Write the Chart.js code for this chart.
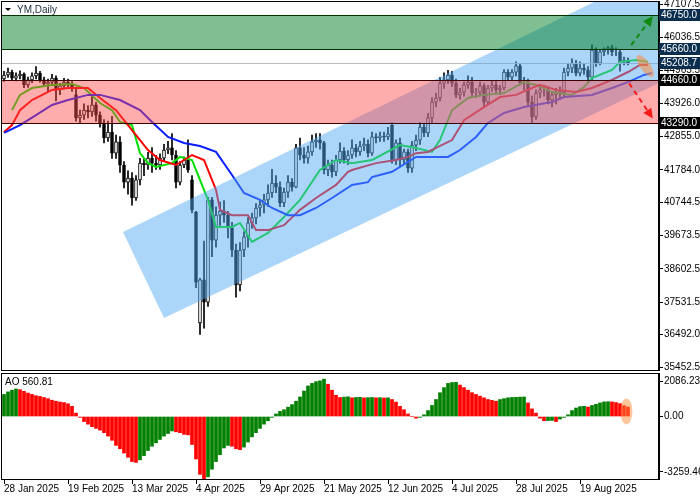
<!DOCTYPE html>
<html><head><meta charset="utf-8">
<script src="https://cdn.jsdelivr.net/npm/chart.js@4/dist/chart.umd.min.js"></script>
<style>
html,body{margin:0;padding:0;background:#fff;}
#wrap{position:relative;width:700px;height:500px;}
#c1{position:absolute;left:0;top:0;}
#c2{position:absolute;left:0;top:372px;}
</style></head><body>
<div id="wrap"><canvas id="c1" width="700" height="372"></canvas><canvas id="c2" width="700" height="128"></canvas></div>
<script>
const dateIdx = [0,16,32,48,64,80,96,112,128,144];
const dateLabels = ['28 Jan 2025','19 Feb 2025','13 Mar 2025','4 Apr 2025','29 Apr 2025','21 May 2025','12 Jun 2025','4 Jul 2025','28 Jul 2025','19 Aug 2025'];
const priceTicks = [47107.5,46036.5,44965.5,43926.0,42855.0,41784.0,40744.5,39673.5,38602.5,37531.5,36492.0,35452.5];
const aoTicks = [2086.23,0,-3259.46];

const opens = [44700,44830,44920,44730,44800,44860,44510,44670,44800,44890,
44670,44540,44600,44730,44350,44480,44600,44510,44190,43450,
43540,43700,43640,43870,43540,43290,42810,43000,42320,42680,
41940,41390,41520,40880,41460,42000,41940,42160,42000,41940,
42160,42420,42490,42260,41390,41940,42100,41460,40430,36870,
38250,37540,40820,39530,40330,40460,40330,39920,39210,38090,
39210,39630,40080,40240,40560,40660,40820,41040,41360,41230,
40720,41070,41390,41230,42490,42260,42160,42360,42680,42740,
42650,41780,41940,41720,42100,42390,42100,42260,42490,42360,
42550,42610,42320,42840,42810,42870,42840,43220,42100,42650,
42100,42360,41840,42580,42740,43160,42970,43450,43960,44090,
44570,44670,44830,44570,44190,44280,44510,44600,44250,44280,
44480,43960,44410,44510,44350,44410,44920,44760,44920,45120,
44600,44570,43960,43480,44250,44350,44350,44030,44190,44280,
44250,44920,45050,45210,44890,45050,44990,44760,45630,45210,
45570,45630,45700,45570,45570,45250,45310];
const closes = [44830,44920,44730,44800,44860,44510,44670,44800,44890,44670,
44540,44600,44730,44350,44480,44600,44510,44410,43450,43540,
43700,43640,43870,43540,43290,42810,43000,42320,42680,41940,
41390,41520,40880,41460,42000,41940,42160,42000,41940,42160,
42420,42490,42260,41390,41940,42100,41780,40500,38180,38250,
37540,40820,39530,40330,40460,40330,39920,39210,38090,39210,
39630,40080,40240,40560,40660,40820,41040,41360,41230,40720,
41070,41390,41230,42490,42260,42160,42360,42680,42740,42650,
41780,41940,41720,42100,42390,42100,42260,42490,42360,42550,
42610,42320,42840,42810,42870,42840,42940,42100,42650,42100,
42360,41840,42580,42740,43160,42970,43450,43960,44090,44570,
44670,44830,44570,44190,44280,44510,44600,44250,44280,44480,
43960,44410,44510,44350,44410,44920,44760,44920,45120,44600,
44570,43960,43480,44250,44350,44350,44030,44190,44280,44250,
44920,45050,45210,44890,45050,44990,44760,45630,45210,45570,
45630,45700,45570,45570,45250,45310,45208.7];
const highs = [44950,45050,44990,44900,44960,44900,44760,44900,45100,44950,
44760,44700,44850,44800,44560,44720,44700,44620,44420,43700,
43900,43850,44200,43950,43650,43400,43350,43500,42900,42850,
42050,41750,41700,41600,42150,42150,42350,42500,42250,42300,
42600,42700,42950,42400,42050,42200,42750,41600,40450,38300,
39500,40900,40900,40600,40750,40800,40450,40100,39400,39450,
39800,40250,40400,40700,40800,41000,41300,41800,41600,41400,
41200,41600,41500,42600,42800,42500,42550,42900,42950,42950,
42700,42100,42100,42250,42650,42500,42400,42750,42600,42700,
42800,42750,43000,42950,43000,43000,43150,43300,42750,42800,
42450,42450,42700,42900,43300,43250,43600,44100,44250,44750,
44900,44980,44950,44700,44400,44600,44800,44750,44400,44600,
44550,44500,44650,44650,44500,45000,45000,45000,45250,45200,
44750,44700,44150,44350,44450,44500,44450,44300,44400,44450,
45050,45200,45350,45300,45250,45200,45100,45800,45700,45650,
45700,45750,45780,45700,45650,45400,45380];
const lows = [44620,44750,44650,44640,44700,44420,44430,44580,44700,44600,
44460,44300,44520,44000,44200,44380,44400,44300,43350,43300,
43400,43450,43500,43350,43150,42650,42700,42150,42150,41700,
41200,41000,40650,40800,41300,41600,41800,41700,41800,41800,
42050,42300,42100,41200,41300,41850,41700,40400,38000,36500,
36700,37400,39000,39300,40000,40100,39600,39000,37700,37900,
39000,39300,39900,40050,40300,40400,40600,40900,41050,40600,
40600,40900,41100,41200,42100,42000,42000,42250,42500,42450,
41650,41600,41550,41600,42000,42000,41950,42150,42200,42250,
42400,42200,42250,42650,42700,42700,42750,42000,41950,41900,
41950,41700,41700,42400,42600,42850,42850,43300,43800,44000,
44400,44550,44450,44100,44050,44150,44400,44100,44100,44150,
43800,43900,44300,44250,44200,44350,44650,44650,44800,44500,
44350,43850,43300,43400,44100,44150,43900,43800,43900,44050,
44150,44800,44900,44800,44800,44850,44600,44650,45100,45150,
45450,45500,45450,45450,44950,45150,45150];

const lipsX = [2,4,7,12,17,20,24,27,29,32,34,36,38,42,44,47,49,51,53,57,59,62,66,70,74,79,83,87,92,99,103,107,109,112,116,120,125,130,133,137,142,145,147,152,154,158,161];
const lipsV = [43700,44190,44410,44510,44540,44410,43930,43700,43320,43220,42320,42000,41875,42000,42200,42100,41460,40820,39950,39950,40080,39470,39760,40270,40820,41780,42100,42000,42100,42580,42485,42360,42740,43700,44090,44190,44250,44600,44510,44280,44190,44440,44730,44990,45250,45310,45250];
const teethX = [0,2,4,7,12,16,21,24,28,32,36,39,43,47,50,53,54,57,61,63,66,70,74,78,83,86,87,93,98,101,103,106,108,112,115,120,124,128,132,134,138,143,147,152,156,159,161];
const teethV = [43000,43220,43700,44026,44350,44410,44410,44090,43700,43060,42420,42100,41940,42260,42100,41140,40500,40330,40330,39850,39850,40010,40500,40880,41300,41720,41780,42000,42100,42200,42320,42360,42490,42740,43380,43800,44120,44190,44410,44510,44350,44280,44410,44670,44925,45150,45150];
const jawX = [0,4,8,12,16,21,24,29,34,37,41,45,49,53,57,60,64,67,71,74,78,82,87,91,92,97,103,111,114,118,121,125,130,137,140,147,152,156,160,162];
const jawV = [42970,43220,43540,43865,44026,44190,44190,44026,43700,43320,42840,42645,42550,42360,41620,41040,40820,40560,40330,40330,40560,40880,41300,41390,41550,41720,42200,42200,42420,42840,43290,43610,43800,43960,44120,44190,44410,44600,44830,44890];

const aoValues = [1300,1450,1550,1620,1580,1480,1380,1300,1220,1180,
1120,1050,960,900,850,820,750,600,200,-50,
-300,-450,-600,-700,-800,-950,-1150,-1400,-1700,-1900,
-2150,-2400,-2650,-2700,-2550,-2300,-2000,-1750,-1550,-1350,
-1150,-1000,-850,-900,-950,-1050,-1080,-1650,-2500,-3400,
-3800,-3550,-3100,-2650,-2250,-1850,-1700,-1750,-1900,-1950,
-1800,-1500,-1200,-950,-700,-450,-250,-50,150,300,
400,550,700,900,1150,1500,1800,1950,2050,2100,
2200,1900,1550,1250,1120,1140,1160,1100,1120,1130,
1100,1110,1120,1100,1110,1090,1100,1000,850,600,
400,150,0,-100,-50,100,350,650,1000,1400,
1700,1950,2000,2010,1850,1700,1550,1400,1300,1200,
1100,1000,950,900,1000,1050,1100,1120,1130,1140,
1150,800,450,200,-100,-250,-240,-230,-300,-150,
-50,100,350,500,580,600,560,650,720,800,
860,870,860,820,760,640,560.81];

const levels = [46750,45660,45208.7,44660,43290];
const levelBg = ['#0b2e4f','#0b2e4f','#0b2e4f','#000000','#000000'];
const greenZone = [45660,46750];
const redZone = [43290,44660];
const channel = [[29.75,39790],[40,37030],[163.75,44570],[163.75,48190]];

const FONT = {family:'Liberation Sans, Arial, sans-serif', size:10};
const XMIN=-0.75, XMAX=163.75;

const bodyData = opens.map((o,i)=>({x:i,y:[o,closes[i]]}));
const wickData = highs.map((h,i)=>({x:i,y:[lows[i],h]}));
const bodyColors = opens.map((o,i)=> closes[i]>=o ? '#ffffff' : '#000000');
const pts = (xs,vs)=>xs.map((x,i)=>({x:x,y:vs[i]}));
const noPadV = s=>{s.paddingTop=0;s.paddingBottom=0;};

const overlayPlugin = {
  id:'ov',
  afterDatasetsDraw(chart){
    const {ctx, chartArea:a, scales:{x,y}} = chart;
    ctx.save();
    ctx.beginPath(); ctx.rect(a.left,a.top,a.right-a.left,a.bottom-a.top); ctx.clip();
    ctx.strokeStyle='#bdbdbd'; ctx.lineWidth=1;
    let py=Math.round(y.getPixelForValue(closes[closes.length-1]))+0.5;
    ctx.beginPath(); ctx.moveTo(a.left,py); ctx.lineTo(a.right,py); ctx.stroke();
    ctx.fillStyle='rgba(80,170,245,0.48)';
    ctx.beginPath();
    channel.forEach((p,i)=>{const px=x.getPixelForValue(p[0]),yy=y.getPixelForValue(p[1]); i?ctx.lineTo(px,yy):ctx.moveTo(px,yy);});
    ctx.closePath(); ctx.fill();
    const zone=(z,fill,line)=>{
      const y1=Math.round(y.getPixelForValue(z[1])), y0=Math.round(y.getPixelForValue(z[0]));
      ctx.fillStyle=fill; ctx.fillRect(a.left,y1,a.right-a.left,y0-y1);
      ctx.strokeStyle=line; ctx.lineWidth=1;
      [y0,y1].forEach(v=>{ctx.beginPath();ctx.moveTo(a.left,v+0.5);ctx.lineTo(a.right,v+0.5);ctx.stroke();});
    };
    zone(greenZone,'rgba(0,128,36,0.5)','#003300');
    zone(redZone,'rgba(255,70,70,0.45)','#3a0000');
    ctx.fillStyle='rgba(255,140,60,0.55)';
    ctx.beginPath(); ctx.ellipse(x.getPixelForValue(160.3),y.getPixelForValue(45120),13,5,0.95,0,Math.PI*2); ctx.fill();
    const arrow=(x0,v0,x1,v1,col)=>{
      const ax=x.getPixelForValue(x0), ay=y.getPixelForValue(v0), bx=x.getPixelForValue(x1), by=y.getPixelForValue(v1);
      const ang=Math.atan2(by-ay,bx-ax);
      const ex=bx-8*Math.cos(ang), ey=by-8*Math.sin(ang);
      ctx.strokeStyle=col; ctx.lineWidth=2; ctx.setLineDash([5,4]);
      ctx.beginPath(); ctx.moveTo(ax,ay); ctx.lineTo(ex,ey); ctx.stroke(); ctx.setLineDash([]);
      ctx.fillStyle=col; ctx.beginPath(); ctx.moveTo(bx,by);
      ctx.lineTo(bx-11*Math.cos(ang-0.45),by-11*Math.sin(ang-0.45));
      ctx.lineTo(bx-11*Math.cos(ang+0.45),by-11*Math.sin(ang+0.45)); ctx.closePath(); ctx.fill();
    };
    arrow(156.8,45790,162.2,46720,'#118a11');
    arrow(156.3,44560,162.2,43430,'#ff1a1a');
    ctx.restore();
    ctx.strokeStyle='#000'; ctx.lineWidth=1;
    ctx.strokeRect(a.left+0.5,a.top+0.5,a.right-a.left-1,a.bottom-a.top);
    ctx.fillStyle='#000'; ctx.beginPath(); ctx.moveTo(5,8); ctx.lineTo(11,8); ctx.lineTo(8,11); ctx.closePath(); ctx.fill();
    ctx.font='10px Liberation Sans, Arial'; ctx.fillStyle='#1a2a3a'; ctx.textBaseline='middle'; ctx.textAlign='left';
    ctx.fillText('YM,Daily',17,10);
  },
  afterDraw(chart){
    const {ctx, scales:{y}} = chart;
    ctx.save(); ctx.font='10px Liberation Sans, Arial'; ctx.textBaseline='middle'; ctx.textAlign='left';
    levels.forEach((v,i)=>{
      const py=Math.round(y.getPixelForValue(v));
      ctx.fillStyle=levelBg[i]; ctx.fillRect(659,py-6,41,12);
      ctx.fillStyle='#fff'; ctx.fillText(v.toFixed(1),661,py);
    });
    ctx.restore();
  }
};

new Chart(document.getElementById('c1'),{
  type:'bar',
  data:{datasets:[
    {type:'line',data:pts(jawX,jawV),borderColor:'#0a1eff',borderWidth:2,pointRadius:0,order:1},
    {type:'line',data:pts(teethX,teethV),borderColor:'#ff0000',borderWidth:2,pointRadius:0,order:1},
    {type:'line',data:pts(lipsX,lipsV),borderColor:'#00e000',borderWidth:2,pointRadius:0,order:1},
    {data:wickData,backgroundColor:'#000',barThickness:1,grouped:false,order:3},
    {data:bodyData,backgroundColor:bodyColors,borderColor:'#000',borderWidth:1,borderSkipped:false,barThickness:3,grouped:false,order:2}
  ]},
  options:{
    responsive:false,animation:false,
    layout:{padding:{left:1,top:1,right:0,bottom:2}},
    plugins:{legend:{display:false},tooltip:{enabled:false}},
    scales:{
      x:{type:'linear',min:XMIN,max:XMAX,offset:false,display:false},
      y:{position:'right',min:35359,max:47204,
        afterFit(s){s.width=41;noPadV(s);},
        afterBuildTicks(s){s.ticks=priceTicks.map(v=>({value:v}));},
        border:{display:true,color:'#000'},
        grid:{drawOnChartArea:false,drawTicks:true,tickLength:4,color:'#000'},
        ticks:{color:'#000',font:FONT,padding:1,callback:v=>v.toFixed(1)}}
    }
  },
  plugins:[overlayPlugin]
});

const aoColors = aoValues.map((v,i)=> (i===0 || v>aoValues[i-1]) ? '#008000' : '#ff0000');
const aoPlugin = {
  id:'ao',
  afterDatasetsDraw(chart){
    const {ctx, chartArea:a, scales:{x,y}} = chart;
    ctx.save();
    ctx.fillStyle='rgba(255,140,60,0.5)';
    ctx.beginPath(); ctx.ellipse(x.getPixelForValue(155.6),y.getPixelForValue(300),6,13,0,0,Math.PI*2); ctx.fill();
    ctx.strokeStyle='#000'; ctx.lineWidth=1;
    ctx.strokeRect(a.left+0.5,a.top+0.5,a.right-a.left-1,a.bottom-a.top);
    ctx.font='10px Liberation Sans, Arial'; ctx.fillStyle='#000'; ctx.textBaseline='middle'; ctx.textAlign='left';
    ctx.fillText('AO '+aoValues[aoValues.length-1].toFixed(2),5,a.top+9);
    ctx.restore();
  }
};
new Chart(document.getElementById('c2'),{
  type:'bar',
  data:{datasets:[{data:aoValues.map((v,i)=>({x:i,y:v})),backgroundColor:aoColors,barThickness:3,grouped:false}]},
  options:{
    responsive:false,animation:false,
    layout:{padding:{left:1,top:1,right:0,bottom:0}},
    plugins:{legend:{display:false},tooltip:{enabled:false}},
    scales:{
      x:{type:'linear',min:XMIN,max:XMAX,offset:false,
        afterFit(s){s.height=21;s.paddingLeft=0;s.paddingRight=0;},
        afterBuildTicks(s){s.ticks=dateIdx.map(v=>({value:v}));},
        border:{display:true,color:'#000'},
        grid:{drawOnChartArea:false,drawTicks:true,tickLength:5,color:'#000',offset:false},
        ticks:{color:'#000',font:FONT,padding:-1,align:'start',maxRotation:0,autoSkip:false,
          callback:v=>dateLabels[dateIdx.indexOf(v)]}},
      y:{position:'right',min:-3676,max:2560,
        afterFit(s){s.width=41;noPadV(s);},
        afterBuildTicks(s){s.ticks=aoTicks.map(v=>({value:v}));},
        border:{display:true,color:'#000'},
        grid:{drawOnChartArea:false,drawTicks:true,tickLength:4,color:'#000'},
        ticks:{color:'#000',font:FONT,padding:1,callback:v=>v.toFixed(2)}}
    }
  },
  plugins:[aoPlugin]
});
</script></body></html>
